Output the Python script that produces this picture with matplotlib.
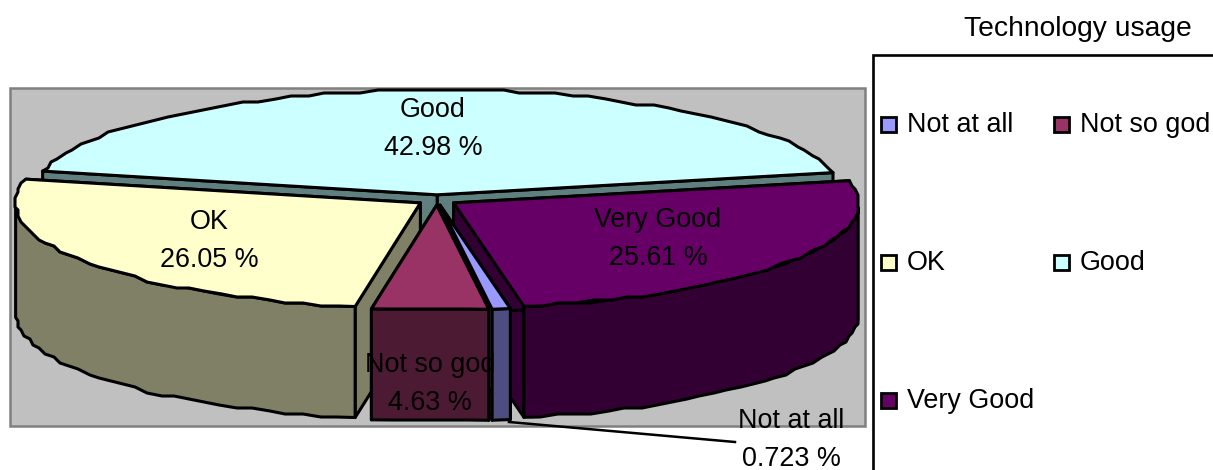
import numpy as np
import matplotlib
matplotlib.use("Agg")
import matplotlib.pyplot as plt
from matplotlib.patches import Polygon, Rectangle

plt.rcParams['font.family'] = ['Liberation Sans', 'DejaVu Sans']

# Data
categories = ["Not at all", "Not so god", "OK", "Good", "Very Good"]
values = [0.723, 4.63, 26.05, 42.98, 25.61]
value_labels = ["0.723", "4.63", "26.05", "42.98", "25.61"]
top_colors = ["#9999FF", "#993366", "#FFFFCC", "#CCFFFF", "#660066"]
side_colors = ["#4D4D80", "#4D1A33", "#808066", "#608080", "#330033"]
title = "Technology usage"

# Layout (pixels)
W, H = 1213, 470
CX, CY = 437, 200
RX, RY = 405, 105
DEPTH = 111
EXPLODE = 20
START = -80.0
STEP = 2.5
GRID = 3.0
LW = 2.2
FS = 19.4

fig = plt.figure(figsize=(W / 100, H / 100), dpi=100)
ax = fig.add_axes([0, 0, 1, 1])
ax.set_xlim(0, W)
ax.set_ylim(H, 0)
ax.axis("off")

ax.add_patch(Rectangle((10, 88), 855, 338, fc="#C0C0C0", ec="#808080", lw=1.8, zorder=0))
ax.add_patch(Rectangle((873, 55), 400, 500, fc="white", ec="black", lw=1.9, zorder=0, clip_on=True))


def rim(cx, cy, a0, a1):
    """Outer rim from a0 to a1 degrees, stepped like a coarse raster polygon."""
    n = max(2, int(abs(a1 - a0) / STEP) + 1)
    t = np.radians(np.linspace(a0, a1, n))
    x = cx + RX * np.cos(t)
    y = cy - RY * np.sin(t)
    x[1:-1] = np.round(x[1:-1] / GRID) * GRID
    y[1:-1] = np.round(y[1:-1] / GRID) * GRID
    return x, y


def poly(pts, color, z):
    ax.add_patch(Polygon(pts, closed=True, fc=color, ec="black", lw=LW,
                         joinstyle="round", zorder=z))


# Slice angles, clockwise from START
total = sum(values)
angles = {}
a = START
for name, v in zip(categories, values):
    angles[name] = (a - v / total * 360, a)
    a -= v / total * 360

draw_order = ["Good", "OK", "Very Good", "Not at all", "Not so god"]
for i, name in enumerate(draw_order):
    k = categories.index(name)
    lo, hi = angles[name]
    mid = np.radians((lo + hi) / 2)
    cx = CX + EXPLODE * np.cos(mid)
    cy = CY - EXPLODE * (RY / RX) * np.sin(mid)
    z = 2 + i
    side, top = side_colors[k], top_colors[k]
    # cut faces
    for ang in (lo, hi):
        rx = cx + RX * np.cos(np.radians(ang))
        ry = cy - RY * np.sin(np.radians(ang))
        poly([(cx, cy), (rx, ry), (rx, ry + DEPTH), (cx, cy + DEPTH)], side, z)
    # outer wall: front part of the rim only
    grid = np.arange(lo, hi + STEP, STEP)
    grid = np.clip(grid, lo, hi)
    front = grid[np.sin(np.radians(grid)) <= 0]
    if len(front) >= 2:
        fx, fy = rim(cx, cy, front[0], front[-1])
        pts = list(zip(fx, fy)) + list(zip(fx[::-1], fy[::-1] + DEPTH))
        poly(pts, side, z)
    # top
    tx, ty = rim(cx, cy, lo, hi)
    poly([(cx, cy)] + list(zip(tx, ty)), top, z)

# Leader line
ax.plot([509, 735], [422, 442], color="black", lw=1.8, zorder=20)

# Data labels
label_xy = {"Good": (433, 129), "OK": (209, 241), "Very Good": (658, 239),
            "Not so god": (430, 384), "Not at all": (791, 440)}
for name, lab in zip(categories, value_labels):
    x, y = label_xy[name]
    ax.text(x, y, f"{name}\n{lab} %", ha="center", va="center", fontsize=FS,
            color="black", linespacing=1.6, zorder=30)

# Title and legend
ax.text(1078, 29, title, ha="center", va="center", fontsize=20.3, color="black", zorder=30)
legend_xy = [(880, 124), (1053, 124), (880, 262), (1053, 262), (880, 400)]
for name, c, (x, y) in zip(categories, top_colors, legend_xy):
    ax.add_patch(Rectangle((x + 1, y - 7), 14.5, 14.5, fc=c, ec="black", lw=2.0, zorder=25))
    ax.text(x + 27, y + 1, name, ha="left", va="center", fontsize=FS, color="black", zorder=30)

fig.savefig("out.png", dpi=100)
